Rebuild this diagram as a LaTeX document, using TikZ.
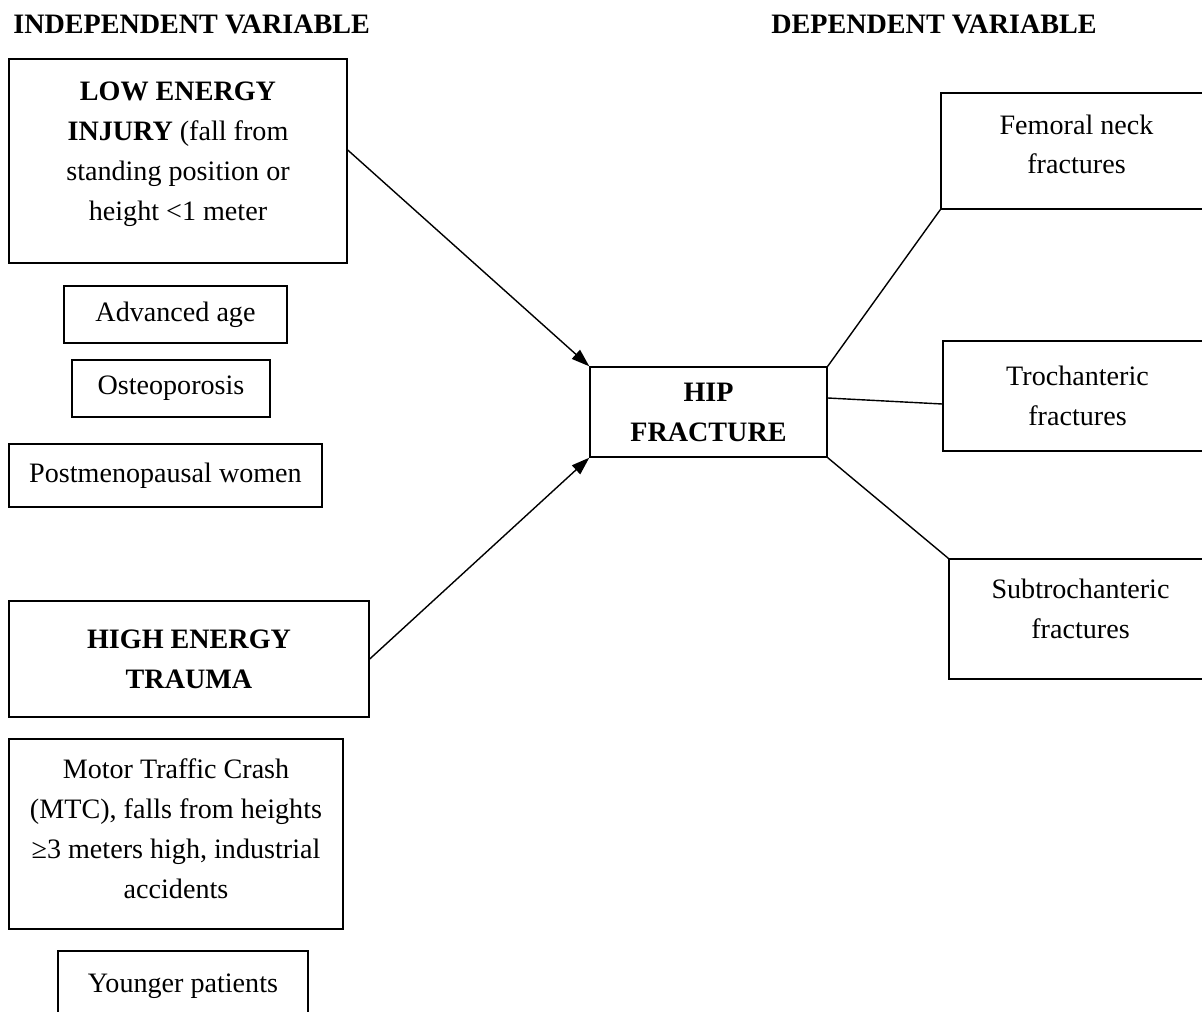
\documentclass[tikz,border=0pt]{standalone}
\usepackage{fontspec}
\setmainfont{Liberation Serif}
\usepackage{tikz}
\usetikzlibrary{arrows.meta, positioning}
\tikzset{
    factor_box/.style={
        rectangle, draw=black, line width=0.8pt, fill=white,
        align=center, inner sep=2pt,
        font=\fontsize{16}{22.7}\selectfont
    },
    head_lbl/.style={
        anchor=west, inner sep=0pt,
        font=\fontsize{16}{22.7}\selectfont\bfseries
    },
    link_arrow/.style={
        -{Triangle[length=0.36cm, width=0.24cm]}, line width=0.8pt, draw=black
    },
    link_line/.style={
        line width=0.8pt, draw=black
    }
}
% extra depth below the last line, to lift the text inside a box
\newcommand{\liftby}[1]{\rule[-#1]{0pt}{0.1pt}}
\begin{document}
\begin{tikzpicture}
    \useasboundingbox (0,0) rectangle (24.04,-20.24);

    % Column headings
    \node[head_lbl] (indep_head) at (0.26, -0.48) {INDEPENDENT VARIABLE};
    \node[head_lbl] (dep_head) at (15.42, -0.48) {DEPENDENT VARIABLE};

    % Independent variables: low energy group
    \node[factor_box, minimum width=6.76cm, minimum height=4.08cm] (low_box) at (3.56, -3.22) {
        \textbf{LOW ENERGY}\\
        \textbf{INJURY} (fall from\\
        standing position or\\
        height <1 meter\liftby{0.4cm}
    };
    \node[factor_box, minimum width=4.46cm, minimum height=1.14cm] (age_box) at (3.51, -6.29) {Advanced age};
    \node[factor_box, minimum width=3.96cm, minimum height=1.14cm] (osteo_box) at (3.42, -7.77) {Osteoporosis};
    \node[factor_box, minimum width=6.26cm, minimum height=1.26cm] (meno_box) at (3.31, -9.51) {Postmenopausal women};

    % Independent variables: high energy group
    \node[factor_box, minimum width=7.2cm, minimum height=2.32cm] (high_box) at (3.78, -13.18) {
        \textbf{HIGH ENERGY}\\
        \textbf{TRAUMA}
    };
    \node[factor_box, minimum width=6.68cm, minimum height=3.8cm] (mtc_box) at (3.52, -16.68) {
        Motor Traffic Crash\\
        (MTC), falls from heights\\
        ≥3 meters high, industrial\\
        accidents\liftby{0.21cm}
    };
    \node[factor_box, minimum width=5.0cm, minimum height=1.4cm] (young_box) at (3.66, -19.72) {Younger patients};

    % Dependent variable
    \node[factor_box, minimum width=4.74cm, minimum height=1.8cm] (hip_box) at (14.17, -8.24) {
        \textbf{HIP}\\
        \textbf{FRACTURE}
    };

    % Fracture types
    \node[factor_box, minimum width=5.42cm, minimum height=2.32cm] (neck_box) at (21.53, -3.02) {
        Femoral neck\\
        fractures\liftby{0.27cm}
    };
    \node[factor_box, minimum width=5.38cm, minimum height=2.2cm] (troch_box) at (21.55, -7.92) {
        Trochanteric\\
        fractures
    };
    \node[factor_box, minimum width=5.26cm, minimum height=2.4cm] (subtroch_box) at (21.61, -12.38) {
        Subtrochanteric\\
        fractures\liftby{0.42cm}
    };

    % Causes -> hip fracture
    \draw[link_arrow] ([yshift=0.22cm]low_box.east) -- (hip_box.north west);
    \draw[link_arrow] (high_box.east) -- (hip_box.south west);

    % Hip fracture -> fracture types
    \draw[link_line] (hip_box.north east) -- (neck_box.south west);
    \draw[link_line] ([yshift=0.28cm]hip_box.east) -- ([yshift=-0.16cm]troch_box.west);
    \draw[link_line] (hip_box.south east) -- (subtroch_box.north west);

\end{tikzpicture}
\end{document}
